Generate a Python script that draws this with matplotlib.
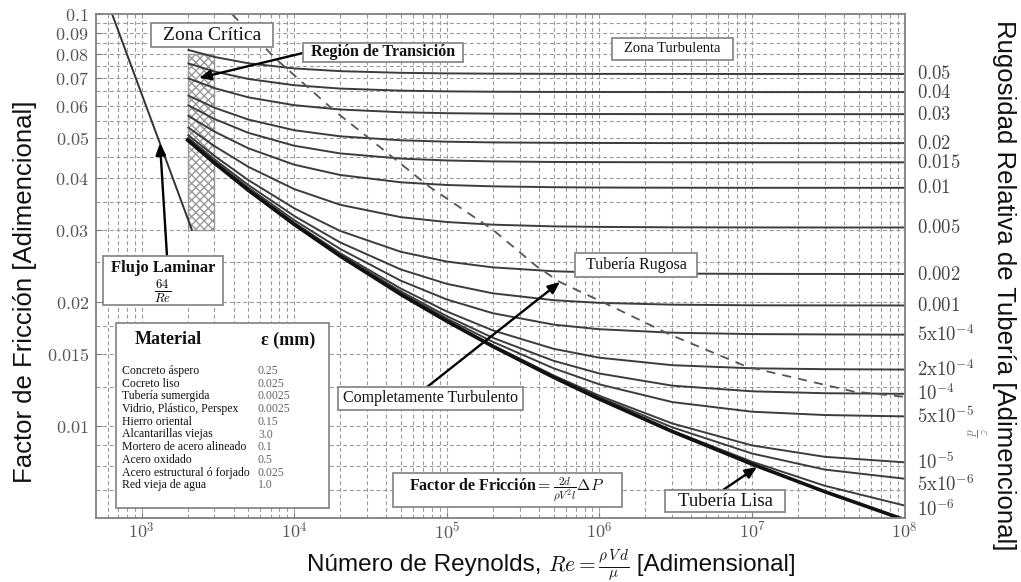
import matplotlib
matplotlib.use('Agg')
import matplotlib.pyplot as plt
from matplotlib.patches import Rectangle
import matplotlib.transforms as mtransforms

plt.rcParams['mathtext.fontset'] = 'cm'

# ---------------- data ----------------
Re_grid = [2e3, 3e3, 5e3, 1e4, 2e4, 5e4, 1e5, 2e5, 5e5, 1e6, 3e6, 1e7, 3e7, 1e8]

f_0_05  = [0.08191, 0.07868, 0.07595, 0.07380, 0.07269, 0.07201, 0.07178, 0.07167, 0.07160, 0.07158, 0.07156, 0.07155, 0.07155, 0.07155]
f_0_04  = [0.07601, 0.07254, 0.06958, 0.06720, 0.06595, 0.06519, 0.06493, 0.06480, 0.06472, 0.06470, 0.06468, 0.06467, 0.06467, 0.06467]
f_0_03  = [0.06993, 0.06612, 0.06280, 0.06011, 0.05868, 0.05778, 0.05748, 0.05733, 0.05724, 0.05721, 0.05718, 0.05717, 0.05717, 0.05717]
f_0_02  = [0.06355, 0.05927, 0.05548, 0.05227, 0.05052, 0.04941, 0.04903, 0.04883, 0.04872, 0.04868, 0.04865, 0.04864, 0.04864, 0.04864]
f_0_015 = [0.06019, 0.05566, 0.05151, 0.04793, 0.04592, 0.04461, 0.04415, 0.04392, 0.04378, 0.04374, 0.04371, 0.04370, 0.04369, 0.04369]
f_0_01  = [0.05676, 0.05187, 0.04725, 0.04312, 0.04071, 0.03908, 0.03850, 0.03821, 0.03803, 0.03796, 0.03792, 0.03790, 0.03790, 0.03790]
f_5e_3  = [0.05319, 0.04784, 0.04261, 0.03763, 0.03447, 0.03217, 0.03131, 0.03085, 0.03056, 0.03047, 0.03040, 0.03038, 0.03037, 0.03037]
f_2e_3  = [0.05097, 0.04529, 0.03957, 0.03380, 0.02979, 0.02651, 0.02511, 0.02431, 0.02379, 0.02361, 0.02348, 0.02344, 0.02343, 0.02342]
f_1e_3  = [0.05021, 0.04443, 0.03850, 0.03238, 0.02794, 0.02402, 0.02217, 0.02103, 0.02024, 0.01994, 0.01974, 0.01967, 0.01966, 0.01965]
f_5e_4  = [0.04984, 0.04397, 0.03794, 0.03164, 0.02694, 0.02256, 0.02032, 0.01882, 0.01766, 0.01721, 0.01688, 0.01675, 0.01672, 0.01670]
f_2e_4  = [0.04961, 0.04369, 0.03760, 0.03119, 0.02631, 0.02159, 0.01900, 0.01710, 0.01543, 0.01468, 0.01408, 0.01384, 0.01377, 0.01374]
f_1e_4  = [0.04951, 0.04361, 0.03749, 0.03104, 0.02611, 0.02125, 0.01851, 0.01641, 0.01443, 0.01344, 0.01256, 0.01217, 0.01204, 0.01200]
f_5e_5  = [0.04948, 0.04356, 0.03744, 0.03096, 0.02599, 0.02107, 0.01826, 0.01604, 0.01384, 0.01265, 0.01146, 0.01086, 0.01066, 0.01058]
f_1e_5  = [0.04947, 0.04352, 0.03739, 0.03090, 0.02591, 0.02093, 0.01805, 0.01573, 0.01330, 0.01187, 0.01017, 0.008996, 0.008442, 0.008187]
f_5e_6  = [0.04947, 0.04351, 0.03739, 0.03089, 0.02590, 0.02091, 0.01802, 0.01568, 0.01323, 0.01176, 0.009953, 0.008599, 0.007861, 0.007471]
f_1e_6  = [0.04947, 0.04351, 0.03738, 0.03089, 0.02589, 0.02090, 0.01799, 0.01565, 0.01317, 0.01167, 0.009769, 0.008213, 0.007181, 0.006432]
f_lisa  = [0.04947, 0.04351, 0.03738, 0.03089, 0.02589, 0.02089, 0.01799, 0.01564, 0.01316, 0.01165, 0.009721, 0.008103, 0.006948, 0.00594]

rough_labels = [r'$0.05$', r'$0.04$', r'$0.03$', r'$0.02$', r'$0.015$', r'$0.01$', r'$0.005$',
                r'$0.002$', r'$0.001$', r'$5\mathrm{x}10^{-4}$', r'$2\mathrm{x}10^{-4}$',
                r'$10^{-4}$', r'$5\mathrm{x}10^{-5}$', r'$10^{-5}$', r'$5\mathrm{x}10^{-6}$',
                r'$10^{-6}$']

# laminar line (64/Re) end points
Re_lam = [640, 2133]
f_lam = [0.1, 0.03]

# boundary (dashed) between transition and fully rough regions
Re_dash = [3.9e3, 7.7e3, 1.8e4, 3.0e4, 7.7e4, 2.0e5, 3.9e5, 5.5e5, 1.22e6, 2.9e6, 9.2e6, 4.6e7, 1e8]
f_dash = [0.1, 0.0774, 0.0586, 0.0504, 0.0381, 0.0300, 0.0244, 0.0224, 0.0195, 0.0167, 0.01397, 0.01216, 0.0118]

# critical zone
Re_crit = [2000, 3000]
f_crit = [0.03, 0.08]

x_ticks = [1e3, 1e4, 1e5, 1e6, 1e7, 1e8]
x_tick_labels = [r'$10^{3}$', r'$10^{4}$', r'$10^{5}$', r'$10^{6}$', r'$10^{7}$', r'$10^{8}$']
y_ticks = [0.01, 0.015, 0.02, 0.03, 0.04, 0.05, 0.06, 0.07, 0.08, 0.09, 0.1]
y_tick_labels = ['0.01', '0.015', '0.02', '0.03', '0.04', '0.05', '0.06', '0.07', '0.08', '0.09', '0.1']

materials = ['Concreto áspero', 'Cocreto liso', 'Tubería sumergida', 'Vidrio, Plástico, Perspex',
             'Hierro oriental', 'Alcantarillas viejas', 'Mortero de acero alineado',
             'Acero oxidado', 'Acero estructural ó forjado', 'Red vieja de agua']
eps_mm = ['0.25', '0.025', '0.0025', '0.0025', '0.15', '3.0', '0.1', '0.5', '0.025', '1.0']

# ---------------- figure ----------------
W, H = 1021, 582
fig = plt.figure(figsize=(W / 100, H / 100), dpi=100)
fig.patch.set_facecolor('white')

L, R, T, B = 95.7, 904.7, 14, 518
ax = fig.add_axes([L / W, 1 - B / H, (R - L) / W, (B - T) / H])
ax.set_xscale('log')
ax.set_yscale('log')
ax.set_xlim(500, 1e8)
ax.set_ylim(0.006, 0.1)

def F(x, y):
    return (x / W, 1 - y / H)

# grid
grid_kw = dict(color='#9a9a9a', lw=0.8, linestyle=(0, (3.5, 2.5)), zorder=0.5)
for k in range(2, 8):
    for m in range(1, 10):
        v = m * 10 ** k
        if 500 < v < 1e8:
            ax.axvline(v, **grid_kw)
gy = [0.007, 0.008, 0.009, 0.01, 0.0125, 0.015, 0.0175, 0.02, 0.025, 0.03, 0.035, 0.04,
      0.045, 0.05, 0.055, 0.06, 0.065, 0.07, 0.075, 0.08, 0.085, 0.09, 0.095]
for v in gy:
    ax.axhline(v, **grid_kw)

# critical zone
ax.add_patch(Rectangle((Re_crit[0], f_crit[0]), Re_crit[1] - Re_crit[0], f_crit[1] - f_crit[0],
                       facecolor='white', edgecolor='#999999', hatch='xxxx', lw=1.0, zorder=1))

# curves
curves = [f_0_05, f_0_04, f_0_03, f_0_02, f_0_015, f_0_01, f_5e_3, f_2e_3, f_1e_3,
          f_5e_4, f_2e_4, f_1e_4, f_5e_5, f_1e_5, f_5e_6, f_1e_6]
for fv in curves:
    ax.plot(Re_grid, fv, color='#3c3c3c', lw=1.4, zorder=2, solid_capstyle='butt')
ax.plot(Re_grid, f_lisa, color='#111111', lw=2.6, zorder=2.2)
ax.plot(Re_lam, f_lam, color='#333333', lw=1.4, zorder=2)
ax.plot(Re_dash, f_dash, color='#555555', lw=1.3, linestyle=(0, (5, 4)), zorder=2)

# axes styling
for s in ax.spines.values():
    s.set_color('#808080')
    s.set_linewidth(1.3)
ax.set_xticks(x_ticks)
ax.set_xticklabels(x_tick_labels)
ax.set_yticks(y_ticks)
ax.set_yticklabels(['$' + t + '$' for t in y_tick_labels])
ax.xaxis.set_minor_locator(matplotlib.ticker.NullLocator())
ax.yaxis.set_minor_locator(matplotlib.ticker.NullLocator())
ax.tick_params(which='both', direction='in', length=4, color='#808080', labelsize=13,
               labelcolor='#555555')
ax.tick_params(axis='x', pad=3)
ax.tick_params(axis='y', pad=5)

# right labels (relative roughness)
trans = mtransforms.blended_transform_factory(ax.transAxes, ax.transData)
offs = {14: -4.5, 15: -3.0}
for i, (fv, lab) in enumerate(zip(curves, rough_labels)):
    ax.annotate(lab, xy=(1.0, fv[-1]), xycoords=trans, xytext=(9, offs.get(i, 0)),
                textcoords='offset points', ha='left', va='center', fontsize=13.5,
                color='#444444', annotation_clip=False)
fig.text(*F(975, 432), r'$\frac{\varepsilon}{d}$', rotation=270, ha='center', va='center',
         fontsize=13, color='#777777')

# axis labels (x label built from three pieces so the formula can be smaller)
renderer = fig.canvas.get_renderer()
xl_y = 565
parts = [('Número de Reynolds, ', 17.5), (r'$Re = \frac{\rho\, V\, d}{\mu}$', 15.5),
         (' [Adimensional]', 17.5)]
cur_x = 307
for s, size in parts:
    t = fig.text(*F(cur_x, xl_y), s, ha='left', va='center',
                 fontsize=size, family='Liberation Sans', color='#111111')
    bb = t.get_window_extent(renderer)
    cur_x += bb.width

fig.text(*F(25, 100), 'Factor de Fricción [Adimencional]', rotation=90, ha='center', va='top',
         fontsize=18.5, family='Liberation Sans', color='#111111')
fig.text(*F(1004, 550), 'Rugosidad Relativa de Tubería [Adimencional]', rotation=270,
         ha='center', va='bottom', fontsize=18.5, family='Liberation Sans', color='#111111')

# boxes
def box(x0, y0, x1, y1, lw=1.3):
    r = Rectangle(F(x0, y1), (x1 - x0) / W, (y1 - y0) / H, transform=fig.transFigure,
                  facecolor='white', edgecolor='#8a8a8a', lw=lw, zorder=5)
    fig.add_artist(r)

def label(x, y, s, size, weight='normal', ha='center', color='#111111'):
    fig.text(*F(x, y), s, ha=ha, va='center', fontsize=size, fontweight=weight,
             family='Liberation Serif', color=color, zorder=6)

def arrow(x0, y0, x1, y1):
    ax.annotate('', xy=F(x1, y1), xycoords='figure fraction', xytext=F(x0, y0),
                textcoords='figure fraction',
                arrowprops=dict(arrowstyle='-|>,head_length=0.7,head_width=0.3',
                                color='#000000', lw=1.7, shrinkA=0, shrinkB=0),
                zorder=4, annotation_clip=False)

box(151, 23, 273, 47)
label(212, 35, 'Zona Crítica', 14)

box(303, 43, 463, 62)
label(383, 52.5, 'Región de Transición', 11.5, 'bold')
arrow(303, 53, 199, 78)

box(612, 38, 733, 60)
label(672.5, 49, 'Zona Turbulenta', 10.5)

box(103, 256, 223, 305)
label(163, 268, 'Flujo Laminar', 12, 'bold')
fig.text(*F(163, 291), r'$\frac{64}{Re}$', ha='center', va='center', fontsize=13, zorder=6)
arrow(167, 256, 160, 143)

box(575, 253, 697, 277)
label(636, 265, 'Tubería Rugosa', 11.5)

box(338, 387, 523, 410)
label(430.5, 398.5, 'Completamente Turbulento', 11.5)
arrow(427, 387, 560, 282)

box(665, 490, 785, 512)
label(725, 501, 'Tubería Lisa', 13.5)
arrow(723, 490, 757, 467)

box(393, 473, 622, 507)
label(507, 490, r'Factor de Fricción$=\frac{2d}{\rho V^2 l}\Delta P$', 11.5, 'bold')

# materials table
box(116, 323, 329, 508)
label(168, 340, 'Material', 13, 'bold')
label(288, 340, 'ε (mm)', 13, 'bold')
for i, (m, e) in enumerate(zip(materials, eps_mm)):
    yy = 371 + i * 12.7
    label(122, yy, m, 8.5, ha='left')
    label(258, yy, e, 8.5, ha='left', color='#666666')

fig.savefig('out.png', dpi=100, facecolor='white')
